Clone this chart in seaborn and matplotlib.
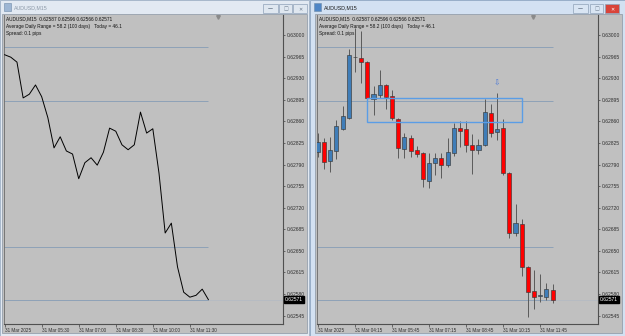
import matplotlib
matplotlib.use('Agg')
import matplotlib.pyplot as plt
import seaborn as sns
import numpy as np
import pandas as pd
from matplotlib.patches import Rectangle
from matplotlib.transforms import blended_transform_factory

# ---------------- data ----------------
symbol = "AUDUSD,M15"
info_line1 = "AUDUSD,M15  0.62587 0.62596 0.62566 0.62571"
info_line2 = "Average Daily Range = 58.2 (100 days)   Today = 46.1"
info_line3 = "Spread: 0.1 pips"

opens = [0.62810, 0.62827, 0.62796, 0.62812, 0.62848, 0.62866, 0.62965, 0.62963, 0.62956, 0.62896,
         0.62903, 0.62919, 0.62901, 0.62864, 0.62815, 0.62833, 0.62814, 0.62809, 0.62763, 0.62793,
         0.62801, 0.62789, 0.62809, 0.62849, 0.62848, 0.62822, 0.62814, 0.62822, 0.62874, 0.62843,
         0.62849, 0.62776, 0.62679, 0.62694, 0.62624, 0.62585, 0.62577, 0.62575, 0.62587]
highs = [0.62841, 0.62833, 0.62835, 0.62862, 0.62885, 0.62977, 0.63011, 0.63007, 0.62958, 0.62917,
         0.62943, 0.62920, 0.62911, 0.62866, 0.62841, 0.62838, 0.62820, 0.62810, 0.62809, 0.62809,
         0.62809, 0.62833, 0.62857, 0.62861, 0.62861, 0.62840, 0.62831, 0.62896, 0.62888, 0.62906,
         0.62864, 0.62778, 0.62726, 0.62702, 0.62626, 0.62619, 0.62613, 0.62598, 0.62596]
lows = [0.62802, 0.62783, 0.62778, 0.62799, 0.62846, 0.62864, 0.62940, 0.62922, 0.62895, 0.62870,
        0.62898, 0.62880, 0.62862, 0.62801, 0.62801, 0.62802, 0.62802, 0.62754, 0.62752, 0.62773,
        0.62768, 0.62786, 0.62804, 0.62818, 0.62810, 0.62775, 0.62807, 0.62820, 0.62835, 0.62830,
        0.62773, 0.62671, 0.62674, 0.62609, 0.62543, 0.62556, 0.62567, 0.62570, 0.62566]
closes = [0.62827, 0.62794, 0.62814, 0.62853, 0.62869, 0.62968, 0.62964, 0.62956, 0.62898, 0.62904,
          0.62919, 0.62900, 0.62866, 0.62817, 0.62835, 0.62812, 0.62807, 0.62767, 0.62793, 0.62801,
          0.62789, 0.62810, 0.62849, 0.62844, 0.62822, 0.62814, 0.62822, 0.62875, 0.62841, 0.62848,
          0.62776, 0.62679, 0.62695, 0.62624, 0.62583, 0.62575, 0.62578, 0.62588, 0.62571]

line_start = 5  # left chart shows closes from bar 5 (04:00) on

price_ticks = [0.63000, 0.62965, 0.62930, 0.62895, 0.62860, 0.62825, 0.62790,
               0.62755, 0.62720, 0.62685, 0.62650, 0.62615, 0.62580, 0.62545]
left_time_labels = ["31 Mar 2025", "31 Mar 05:30", "31 Mar 07:00", "31 Mar 08:30",
                    "31 Mar 10:00", "31 Mar 11:30"]
right_time_labels = ["31 Mar 2025", "31 Mar 04:15", "31 Mar 05:45", "31 Mar 07:15",
                     "31 Mar 08:45", "31 Mar 10:15", "31 Mar 11:45"]
levels = [0.62981, 0.62893, 0.62656, 0.62570]
box_bars = [7.9, 33.0]
box_prices = [0.62859, 0.62898]
arrow_bar = 29
arrow_price = 0.62922

# ---------------- figure ----------------
W, H = 625, 336
fig = plt.figure(figsize=(W / 100, H / 100), dpi=100)
fig.patch.set_facecolor('#d6e2f0')
FONT = ['Liberation Sans', 'DejaVu Sans']


def prect(x0, y0, x1, y1, z=-5, **kw):
    fig.patches.append(Rectangle((x0 / W, 1 - y1 / H), (x1 - x0) / W, (y1 - y0) / H,
                                 transform=fig.transFigure, zorder=z, **kw))


def ptext(x, y, s, **kw):
    fig.text(x / W, 1 - y / H, s, zorder=6, **kw)


# window frames
prect(0, 0, 309, 336, facecolor='#e2e9f2', edgecolor='#9fb0c4', linewidth=0.6, z=-6)
prect(310, 0, 625, 336, facecolor='#d3e1f2', edgecolor='#8ea6c2', linewidth=0.6, z=-6)
# client areas
prect(2, 14, 307, 333, facecolor='#c0c0c0', edgecolor='#8a96a4', linewidth=0.5)
prect(315, 14, 622, 333, facecolor='#c0c0c0', edgecolor='#8a96a4', linewidth=0.5)

# title bars
for x0, col, tcol in [(0, '#9db6d4', '#8c99a8'), (310, '#4f86c6', '#1a1a1a')]:
    prect(x0 + 4, 3, x0 + 11, 11, facecolor=col, edgecolor='#6f8aa8', linewidth=0.4)
    ptext(x0 + 14, 7.5, symbol, fontsize=3.8, color=tcol, va='center', ha='left', family=FONT)

for (x0, x1), active in [((263, 278), False), ((279, 292), False), ((293, 307), False),
                         ((573, 588), True), ((590, 603), True), ((605, 619), True)]:
    is_close = x0 in (293, 605)
    fc = '#dfe7f0'
    if active:
        fc = '#d9e5f3'
        if is_close:
            fc = '#d9443a'
    prect(x0, 4, x1, 13, facecolor=fc, edgecolor='#8fa2b8', linewidth=0.5)
    glyph = '✕' if is_close else ('—' if x0 in (263, 573) else '□')
    gcol = 'white' if (active and is_close) else '#6b7a8c'
    ptext((x0 + x1) / 2, 8.7, glyph, fontsize=3.6, color=gcol, ha='center', va='center',
          family='DejaVu Sans', fontweight='bold')

# info text
for x0 in (6, 319):
    ptext(x0, 19, info_line1, fontsize=3.4, color='#111111', va='center', family=FONT)
    ptext(x0, 26.5, info_line2, fontsize=3.4, color='#111111', va='center', family=FONT)
    ptext(x0, 33, info_line3, fontsize=3.4, color='#111111', va='center', family=FONT)

axL = fig.add_axes([4 / W, 12 / H, 279 / W, 309 / H])
axR = fig.add_axes([317 / W, 12 / H, 281 / W, 309 / H])

bar_px = 6.175
ylo, yhi = 0.625315, 0.630324
n = len(closes)
idx = np.arange(n)

for ax, x_left, width_px in [(axL, line_start - 0.1, 279), (axR, -0.15, 281)]:
    ax.set_facecolor('#c0c0c0')
    ax.set_xlim(x_left, x_left + width_px / bar_px)
    ax.set_ylim(ylo, yhi)
    ax.spines['top'].set_visible(False)
    ax.spines['left'].set_color('#6a6a6a')
    ax.spines['left'].set_linewidth(0.6)
    for s in ['right', 'bottom']:
        ax.spines[s].set_color('#505050')
        ax.spines[s].set_linewidth(0.8)
    ax.yaxis.tick_right()
    ax.set_yticks(price_ticks)
    ax.set_yticklabels([f"{p:.5f}" for p in price_ticks])
    ax.tick_params(axis='y', direction='out', length=1.5, width=0.5, colors='#404040',
                   labelsize=3.6, pad=1)
    ax.tick_params(axis='x', direction='out', length=2.2, width=0.5, colors='#404040',
                   labelsize=3.3, pad=1.0)
    # level lines
    ax.hlines(levels, xmin=x_left, xmax=n - 1, colors='#8ea2b7', linewidth=0.7, zorder=1)
    # current price line
    ax.axhline(closes[-1], color='#b2bac4', linewidth=0.5, zorder=0.9)
    # price label box
    tr = blended_transform_factory(ax.transAxes, ax.transData)
    ax.text(1.006, closes[-1], f"{closes[-1]:.5f}", transform=tr, ha='left', va='center',
            fontsize=3.6, color='white', family=FONT, zorder=10, clip_on=False,
            bbox=dict(boxstyle='square,pad=0.18', fc='black', ec='black'))
    # chart-shift marker
    ax.plot([0.768], [0.995], marker='v', markersize=2.6, color='#8a8a8a',
            transform=ax.transAxes, clip_on=False, zorder=5)

# left: line chart of closes
df_line = pd.DataFrame({'bar': idx[line_start:], 'close': closes[line_start:]})
sns.lineplot(data=df_line, x='bar', y='close', ax=axL, color='black', linewidth=0.7, zorder=3)
axL.set_xticks(idx[line_start::6][:len(left_time_labels)])
axL.set_xticklabels(left_time_labels, ha='left')

# right: candlesticks
o = np.array(opens); c = np.array(closes); h = np.array(highs); l = np.array(lows)
bull = c >= o
body_col = np.where(bull, '#3f7db8', '#ff0000')
axR.vlines(idx, l, h, colors='#5a5a5a', linewidth=0.7, zorder=2)
axR.bar(idx, np.maximum(np.abs(c - o), 0.000004), bottom=np.minimum(o, c), width=0.66,
        color=body_col, edgecolor='#3a3a3a', linewidth=0.45, zorder=3)
axR.add_patch(Rectangle((box_bars[0], box_prices[0]), box_bars[1] - box_bars[0],
                        box_prices[1] - box_prices[0], fill=False, edgecolor='#5a9de6',
                        linewidth=1.0, zorder=4))
axR.text(arrow_bar, arrow_price, '⇩', ha='center', va='center', fontsize=5.5,
         color='#4a78d6', family='DejaVu Sans', zorder=5)
axR.set_xticks(idx[::6][:len(right_time_labels)])
axR.set_xticklabels(right_time_labels, ha='left')

for ax in (axL, axR):
    ax.set_xlabel('')
    ax.set_ylabel('')
    for lab in ax.get_yticklabels() + ax.get_xticklabels():
        lab.set_family(FONT)
        lab.set_color('#303030')

fig.savefig('out.png', dpi=100, facecolor=fig.get_facecolor())
